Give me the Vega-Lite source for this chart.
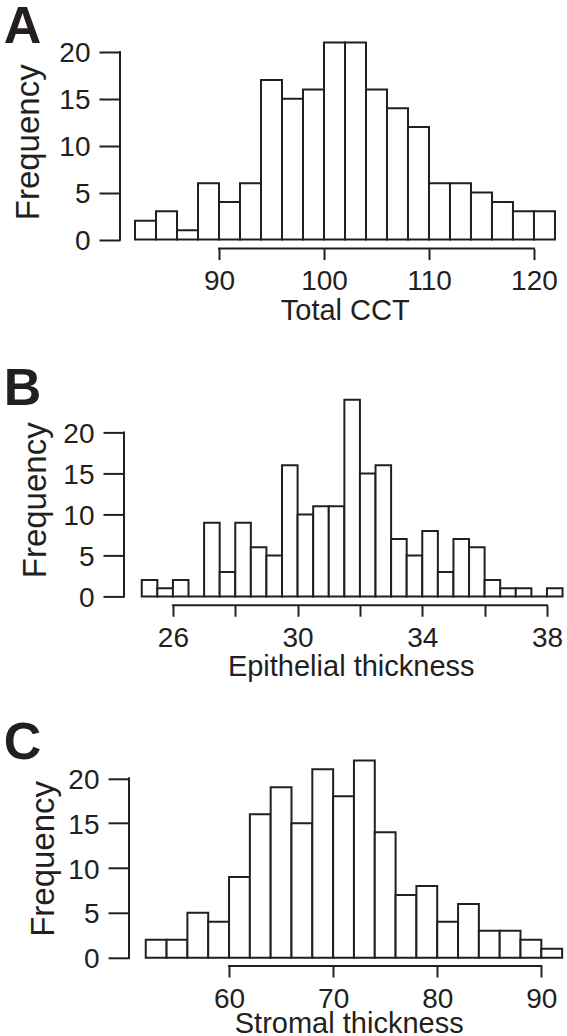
{
  "$schema": "https://vega.github.io/schema/vega-lite/v6.json",
  "autosize": {"type": "pad"},
  "padding": {"left": 3, "top": 0, "right": 0, "bottom": 0},
  "background": "white",
  "spacing": 145.4,
  "bounds": "flush",
  "config": {
    "view": {"stroke": null},
    "font": "Liberation Sans",
    "axis": {
      "domain": false, "grid": false, "ticks": true,
      "tickColor": "#231f20", "tickWidth": 2,
      "labelFont": "Liberation Sans", "labelFontSize": 28, "labelColor": "#231f20",
      "labelFlush": false, "labelOverlap": false, "labelBound": false,
      "titleFont": "Liberation Sans", "titleFontWeight": "normal", "titleColor": "#231f20"
    },
    "axisX": {"tickSize": 11, "labelPadding": 30, "labelBaseline": "alphabetic", "titleFontSize": 29, "titleBaseline": "alphabetic"},
    "axisY": {"tickSize": 21, "labelPadding": 9, "labelBaseline": "alphabetic", "labelOffset": 10, "titleFontSize": 33, "titleBaseline": "alphabetic"},
    "title": {"font": "Liberation Sans", "fontSize": 52, "fontWeight": "bold", "color": "#231f20", "anchor": "start", "frame": "group", "orient": "top", "baseline": "alphabetic"}
  },
  "datasets": {
    "cct": [
      {"lo": 82, "hi": 84, "n": 2}, {"lo": 84, "hi": 86, "n": 3}, {"lo": 86, "hi": 88, "n": 1}, {"lo": 88, "hi": 90, "n": 6},
      {"lo": 90, "hi": 92, "n": 4}, {"lo": 92, "hi": 94, "n": 6}, {"lo": 94, "hi": 96, "n": 17}, {"lo": 96, "hi": 98, "n": 15},
      {"lo": 98, "hi": 100, "n": 16}, {"lo": 100, "hi": 102, "n": 21}, {"lo": 102, "hi": 104, "n": 21}, {"lo": 104, "hi": 106, "n": 16},
      {"lo": 106, "hi": 108, "n": 14}, {"lo": 108, "hi": 110, "n": 12}, {"lo": 110, "hi": 112, "n": 6}, {"lo": 112, "hi": 114, "n": 6},
      {"lo": 114, "hi": 116, "n": 5}, {"lo": 116, "hi": 118, "n": 4}, {"lo": 118, "hi": 120, "n": 3}, {"lo": 120, "hi": 122, "n": 3}
    ],
    "epi": [
      {"lo": 25, "hi": 25.5, "n": 2}, {"lo": 25.5, "hi": 26, "n": 1}, {"lo": 26, "hi": 26.5, "n": 2}, {"lo": 26.5, "hi": 27, "n": 0},
      {"lo": 27, "hi": 27.5, "n": 9}, {"lo": 27.5, "hi": 28, "n": 3}, {"lo": 28, "hi": 28.5, "n": 9}, {"lo": 28.5, "hi": 29, "n": 6},
      {"lo": 29, "hi": 29.5, "n": 5}, {"lo": 29.5, "hi": 30, "n": 16}, {"lo": 30, "hi": 30.5, "n": 10}, {"lo": 30.5, "hi": 31, "n": 11},
      {"lo": 31, "hi": 31.5, "n": 11}, {"lo": 31.5, "hi": 32, "n": 24}, {"lo": 32, "hi": 32.5, "n": 15}, {"lo": 32.5, "hi": 33, "n": 16},
      {"lo": 33, "hi": 33.5, "n": 7}, {"lo": 33.5, "hi": 34, "n": 5}, {"lo": 34, "hi": 34.5, "n": 8}, {"lo": 34.5, "hi": 35, "n": 3},
      {"lo": 35, "hi": 35.5, "n": 7}, {"lo": 35.5, "hi": 36, "n": 6}, {"lo": 36, "hi": 36.5, "n": 2}, {"lo": 36.5, "hi": 37, "n": 1},
      {"lo": 37, "hi": 37.5, "n": 1}, {"lo": 37.5, "hi": 38, "n": 0}, {"lo": 38, "hi": 38.5, "n": 1}
    ],
    "stroma": [
      {"lo": 52, "hi": 54, "n": 2}, {"lo": 54, "hi": 56, "n": 2}, {"lo": 56, "hi": 58, "n": 5}, {"lo": 58, "hi": 60, "n": 4},
      {"lo": 60, "hi": 62, "n": 9}, {"lo": 62, "hi": 64, "n": 16}, {"lo": 64, "hi": 66, "n": 19}, {"lo": 66, "hi": 68, "n": 15},
      {"lo": 68, "hi": 70, "n": 21}, {"lo": 70, "hi": 72, "n": 18}, {"lo": 72, "hi": 74, "n": 22}, {"lo": 74, "hi": 76, "n": 14},
      {"lo": 76, "hi": 78, "n": 7}, {"lo": 78, "hi": 80, "n": 8}, {"lo": 80, "hi": 82, "n": 4}, {"lo": 82, "hi": 84, "n": 6},
      {"lo": 84, "hi": 86, "n": 3}, {"lo": 86, "hi": 88, "n": 3}, {"lo": 88, "hi": 90, "n": 2}, {"lo": 90, "hi": 92, "n": 1}
    ],
    "one": [{}]
  },
  "vconcat": [
    {
      "width": 446, "height": 213.6,
      "title": {"text": "A", "dx": -116.3, "offset": -18.7},
      "layer": [
        {
          "data": {"name": "cct"},
          "mark": {"type": "rect", "fill": "white", "stroke": "#231f20", "strokeWidth": 2},
          "encoding": {
            "x": {"field": "lo", "type": "quantitative", "scale": {"domain": [80.57, 123.05], "nice": false, "zero": false},
                  "axis": {"values": [90, 100, 110, 120], "title": "Total CCT", "titleX": 224.7, "titleY": 71}},
            "x2": {"field": "hi"},
            "y": {"field": "n", "type": "quantitative", "scale": {"domain": [-0.97, 21.81], "nice": false, "zero": false},
                  "axis": {"values": [0, 5, 10, 15, 20], "title": "Frequency", "titleX": -81.8}},
            "y2": {"datum": 0}
          }
        },
        {
          "data": {"name": "one"},
          "mark": {"type": "rule", "stroke": "#231f20", "strokeWidth": 2, "strokeCap": "square"},
          "encoding": {
            "x": {"datum": 90, "type": "quantitative"},
            "x2": {"datum": 120},
            "y": {"datum": -0.97, "type": "quantitative"}
          }
        },
        {
          "data": {"name": "one"},
          "mark": {"type": "rule", "stroke": "#231f20", "strokeWidth": 2, "strokeCap": "square"},
          "encoding": {
            "x": {"datum": 80.57, "type": "quantitative"},
            "y": {"datum": 0, "type": "quantitative"},
            "y2": {"datum": 20}
          }
        }
      ]
    },
    {
      "width": 446, "height": 210.8,
      "title": {"text": "B", "dx": -116.3, "offset": -21.4},
      "layer": [
        {
          "data": {"name": "epi"},
          "mark": {"type": "rect", "fill": "white", "stroke": "#231f20", "strokeWidth": 2},
          "encoding": {
            "x": {"field": "lo", "type": "quantitative", "scale": {"domain": [24.302, 38.611], "nice": false, "zero": false},
                  "axis": {"values": [26, 28, 30, 32, 34, 36, 38], "labelExpr": "datum.value % 4 == 2 ? datum.label : ''", "title": "Epithelial thickness", "titleX": 230.7, "titleY": 70}},
            "x2": {"field": "hi"},
            "y": {"field": "n", "type": "quantitative", "scale": {"domain": [-1.06, 24.65], "nice": false, "zero": false},
                  "axis": {"values": [0, 5, 10, 15, 20], "title": "Frequency", "offset": -4, "titleX": -78.3}},
            "y2": {"datum": 0}
          }
        },
        {
          "data": {"name": "one"},
          "mark": {"type": "rule", "stroke": "#231f20", "strokeWidth": 2, "strokeCap": "square"},
          "encoding": {
            "x": {"datum": 26, "type": "quantitative"},
            "x2": {"datum": 38},
            "y": {"datum": -1.06, "type": "quantitative"}
          }
        },
        {
          "data": {"name": "one"},
          "mark": {"type": "rule", "stroke": "#231f20", "strokeWidth": 2, "strokeCap": "square"},
          "encoding": {
            "x": {"datum": 24.43, "type": "quantitative"},
            "y": {"datum": 0, "type": "quantitative"},
            "y2": {"datum": 20}
          }
        }
      ]
    },
    {
      "width": 446, "height": 215.2,
      "title": {"text": "C", "dx": -116.3, "offset": -19.4},
      "layer": [
        {
          "data": {"name": "stroma"},
          "mark": {"type": "rect", "fill": "white", "stroke": "#231f20", "strokeWidth": 2},
          "encoding": {
            "x": {"field": "lo", "type": "quantitative", "scale": {"domain": [49.525, 92.37], "nice": false, "zero": false},
                  "axis": {"values": [60, 70, 80, 90], "title": "Stromal thickness", "titleX": 228.7, "titleY": 66}},
            "x2": {"field": "hi"},
            "y": {"field": "n", "type": "quantitative", "scale": {"domain": [-0.925, 23.07], "nice": false, "zero": false},
                  "axis": {"values": [0, 5, 10, 15, 20], "title": "Frequency", "offset": -9, "titleX": -75.3}},
            "y2": {"datum": 0}
          }
        },
        {
          "data": {"name": "one"},
          "mark": {"type": "rule", "stroke": "#231f20", "strokeWidth": 2, "strokeCap": "square"},
          "encoding": {
            "x": {"datum": 60, "type": "quantitative"},
            "x2": {"datum": 90},
            "y": {"datum": -0.925, "type": "quantitative"}
          }
        },
        {
          "data": {"name": "one"},
          "mark": {"type": "rule", "stroke": "#231f20", "strokeWidth": 2, "strokeCap": "square"},
          "encoding": {
            "x": {"datum": 50.39, "type": "quantitative"},
            "y": {"datum": 0, "type": "quantitative"},
            "y2": {"datum": 20}
          }
        }
      ]
    }
  ]
}
